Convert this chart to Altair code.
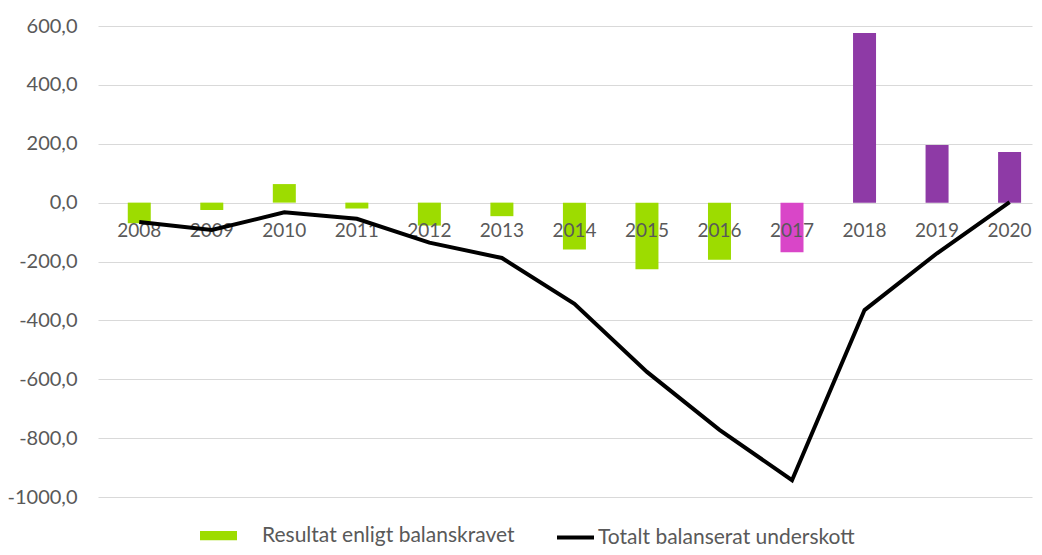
import altair as alt
import pandas as pd

years = [2008, 2009, 2010, 2011, 2012, 2013, 2014, 2015, 2016, 2017, 2018, 2019, 2020]
resultat = [-70, -25, 63, -20, -78, -46, -159, -226, -194, -169, 576, 196, 172]
underskott = [-66, -93, -33, -55, -136, -188, -344, -575, -772, -943, -365, -172, 2]
bar_group = ["Resultat enligt balanskravet"] * 9 + ["2017"] + ["2018–2020"] * 3
y_ticks = [-1000, -800, -600, -400, -200, 0, 200, 400, 600]

bar_name = "Resultat enligt balanskravet"
line_name = "Totalt balanserat underskott"

df = pd.DataFrame({
    "year": years,
    "resultat": resultat,
    "underskott": underskott,
    "grupp": bar_group,
    "serie": [line_name] * len(years),
    "label": [str(y) for y in years],
    "zero": [0] * len(years),
})

FONT = "Lato"
GRAY = "#595959"

x = alt.X("year:Q", scale=alt.Scale(domain=[2007.5, 2020.24], nice=False, zero=False), axis=None)

base = alt.Chart(df)

bars = base.mark_bar(size=23).encode(
    x=x,
    y=alt.Y(
        "resultat:Q",
        scale=alt.Scale(domain=[-1000, 600], nice=False),
        axis=alt.Axis(
            values=y_ticks,
            title=None,
            grid=True,
            gridColor="#d9d9d9",
            gridWidth=1,
            domain=False,
            ticks=False,
            labelPadding=21,
            labelFont=FONT,
            labelFontSize=20,
            labelColor=GRAY,
            labelExpr="replace(replace(format(datum.value, '.1f'), '.', ','), '\u2212', '-')",
        ),
    ),
    color=alt.Color(
        "grupp:N",
        scale=alt.Scale(
            domain=[bar_name, "2017", "2018–2020"],
            range=["#9ddc00", "#d946c8", "#8e3aa6"],
        ),
        legend=alt.Legend(
            values=[bar_name],
            title=None,
            orient="none",
            legendX=102,
            legendY=491,
            symbolType="M-1,-0.25H1V0.25H-1Z",
            symbolSize=1369,
            symbolStrokeWidth=0,
            symbolOpacity=1,
            labelOffset=25,
            labelLimit=500,
            labelFont=FONT,
            labelFontSize=21,
            labelColor=GRAY,
        ),
    ),
)

labels = base.mark_text(baseline="middle", align="center", dy=28, font=FONT, fontSize=19, color=GRAY).encode(
    x=x,
    y=alt.Y("zero:Q"),
    text="label:N",
)

line = base.mark_line(strokeWidth=4).encode(
    x=x,
    y=alt.Y("underskott:Q"),
    stroke=alt.Stroke(
        "serie:N",
        scale=alt.Scale(domain=[line_name], range=["#000000"]),
        legend=alt.Legend(
            title=None,
            orient="none",
            legendX=457,
            legendY=491,
            symbolType="stroke",
            symbolSize=1369,
            symbolStrokeWidth=4,
            labelOffset=2,
            labelLimit=500,
            labelFont=FONT,
            labelFontSize=21,
            labelColor=GRAY,
        ),
    ),
)

chart = alt.layer(bars, labels, line).resolve_scale(color="independent").properties(
    width=934,
    height=471,
    autosize=alt.AutoSizeParams(type="none"),
    padding={"left": 90, "top": 18, "right": 2, "bottom": 50},
    background="white",
).configure_view(stroke=None)

chart.save("out.html", embed_options={"renderer": "svg", "actions": False})
